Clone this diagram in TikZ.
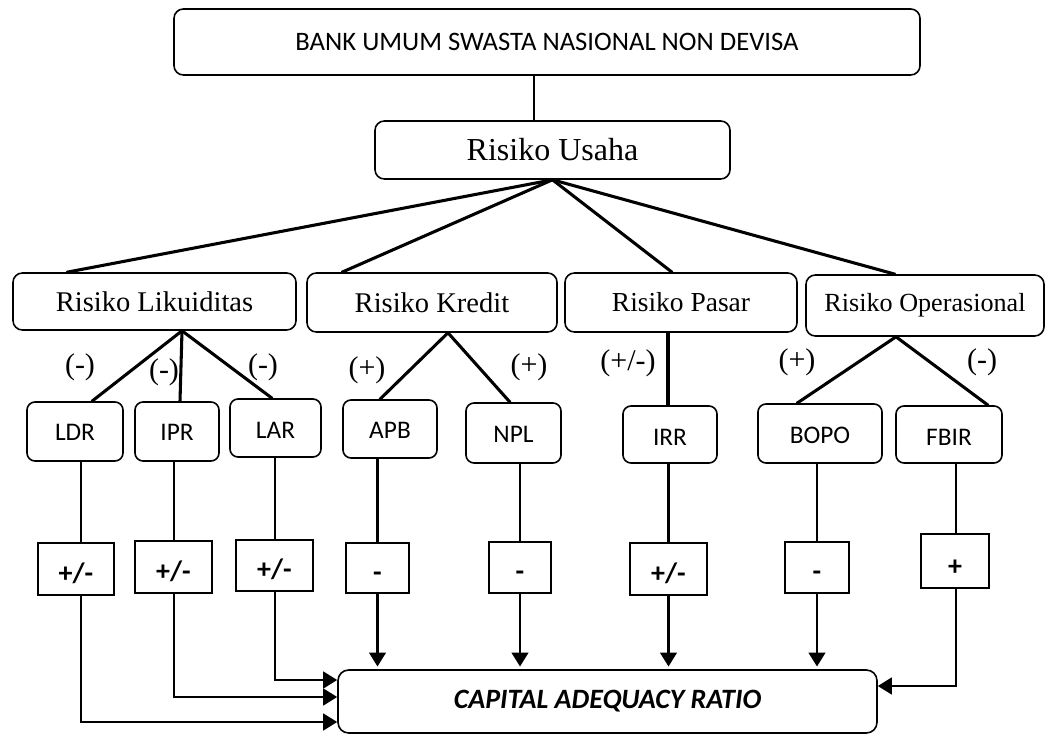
\documentclass[tikz,border=0pt]{standalone}
\usepackage{fontspec}
\setmainfont{Liberation Serif}
\newfontfamily\calibrifont{Carlito}
\usetikzlibrary{arrows.meta,calc}
\newcommand\boxat[7]{\node[#2,minimum width={(#5-#3)*0.75pt},minimum height={(#6-#4)*0.75pt}] (#1) at ({(#3+#5)/2},{(#4+#6)/2}) {#7};}
\newcommand\lowtext[2]{\raisebox{-#1}[0pt][0pt]{#2}}
\begin{document}
\begin{tikzpicture}[x=0.75pt,y=-0.75pt,
  rbox/.style={draw,line width=1.2pt,rounded corners=7pt,inner sep=0pt},
  sbox/.style={draw,line width=1.2pt,rounded corners=6pt,inner sep=0pt,font=\calibrifont\fontsize{19}{23}\selectfont},
  sign/.style={draw,line width=1.2pt,inner sep=0pt,font=\calibrifont\bfseries\fontsize{21}{25}\selectfont},
  fan/.style={line width=2.3pt,line cap=round},
  vline/.style={line width=1.9pt},
  arr/.style={line width=1.9pt,-{Triangle[length=10.5pt,width=12.5pt]}},
  lab/.style={inner sep=0pt,font=\fontsize{22.5}{26}\selectfont},
]
\useasboundingbox (0,0) rectangle (1046,734);
% main boxes
\boxat{top}{rbox,font=\calibrifont\fontsize{20}{24}\selectfont}{174}{9}{920}{75}{BANK UMUM SWASTA NASIONAL NON DEVISA}
\boxat{usaha}{rbox,font=\fontsize{24}{28}\selectfont}{375}{121}{730}{179}{Risiko Usaha}
\boxat{lik}{rbox,font=\fontsize{21.4}{25}\selectfont}{13}{273}{296}{330}{Risiko Likuiditas}
\boxat{kre}{rbox,font=\fontsize{21.4}{25}\selectfont}{307}{273}{557}{332}{Risiko Kredit}
\boxat{pas}{rbox,font=\fontsize{20.6}{25}\selectfont}{565}{273}{797}{332}{Risiko Pasar}
\boxat{ope}{rbox,font=\fontsize{19.6}{24}\selectfont}{806}{275}{1044}{336}{Risiko Operasional}
% sub boxes
\boxat{ldr}{sbox}{27}{402}{123}{461}{\lowtext{7pt}{LDR}}
\boxat{ipr}{sbox}{135}{402}{219}{461}{\lowtext{7pt}{IPR}}
\boxat{lar}{sbox}{230}{399}{321}{457}{\lowtext{8pt}{LAR}}
\boxat{apb}{sbox}{343}{400}{437}{458}{\lowtext{7pt}{APB}}
\boxat{npl}{sbox}{466}{403}{561}{463}{\lowtext{7pt}{NPL}}
\boxat{irr}{sbox}{623}{406}{717}{463}{\lowtext{8pt}{IRR}}
\boxat{bopo}{sbox}{758}{404}{882}{463}{\lowtext{7.5pt}{BOPO}}
\boxat{fbir}{sbox}{896}{406}{1002}{463}{\lowtext{8pt}{FBIR}}
% sign boxes
\boxat{s1}{sign}{38}{543}{114}{595}{\lowtext{10pt}{+/-}}
\boxat{s2}{sign}{135}{541}{212}{593}{\lowtext{10pt}{+/-}}
\boxat{s3}{sign}{236}{540}{313}{591}{\lowtext{10pt}{+/-}}
\boxat{s4}{sign}{346}{543}{409}{593}{\lowtext{10pt}{-}}
\boxat{s5}{sign}{489}{542}{551}{593}{\lowtext{10pt}{-}}
\boxat{s6}{sign}{630}{543}{707}{595}{\lowtext{10pt}{+/-}}
\boxat{s7}{sign}{785}{542}{849}{593}{\lowtext{10pt}{-}}
\boxat{s8}{sign}{921}{534}{989}{588}{\lowtext{11pt}{+}}
% target
\boxat{car}{rbox,rounded corners=8pt,font=\calibrifont\bfseries\itshape\fontsize{21}{25}\selectfont}{338}{670}{877}{733}{CAPITAL ADEQUACY RATIO}
% labels
\node[lab] (l1) at (80,367) {(-)};
\node[lab] (l2) at (164,372) {(-)};
\node[lab] (l3) at (263,367) {(-)};
\node[lab] (l4) at (367,370) {(+)};
\node[lab] (l5) at (529,367) {(+)};
\node[lab] (l6) at (628,363) {(+/-)};
\node[lab] (l7) at (797,362) {(+)};
\node[lab] (l8) at (982,362) {(-)};
% top connector
\coordinate (xU) at (534,0);
\draw[line width=0.8pt] (top.south -| xU) -- (usaha.north -| xU);
% fan from Risiko Usaha
\draw[fan] (usaha.south) -- ($(lik.north)+(-87.5,0)$);
\draw[fan] (usaha.south) -- ($(kre.north)+(-90,0)$);
\draw[fan] (usaha.south) -- ($(pas.north)+(-9,0)$);
\draw[fan] (usaha.south) -- ($(ope.north)+(-30,0)$);
% Likuiditas
\draw[fan] ($(lik.south)+(27.5,0)$) -- ($(ldr.north)+(17,0)$);
\draw[fan] ($(lik.south)+(27.5,0)$) -- ($(ipr.north)+(3,0)$);
\draw[fan] ($(lik.south)+(27.5,0)$) -- ($(lar.north)+(-3.5,0)$);
% Kredit
\draw[fan] ($(kre.south)+(16,0)$) -- ($(apb.north)+(-10,0)$);
\draw[fan] ($(kre.south)+(16,0)$) -- ($(npl.north)+(-3.5,0)$);
% Pasar
\coordinate (xP) at (668,0);
\draw[fan] (pas.south -| xP) -- (irr.north -| xP);
% Operasional
\draw[fan] ($(ope.south)+(-29,0)$) -- ($(bopo.north)+(-23,0)$);
\draw[fan] ($(ope.south)+(-29,0)$) -- ($(fbir.north)+(39,0)$);
% sub to sign
\coordinate (kL) at (81,722);
\coordinate (kI) at (174,697);
\coordinate (kA) at (275,680);
\coordinate (kF) at (956,686);
\draw[vline] (ldr.south -| kL) -- (s1.north -| kL);
\draw[vline] (ipr.south -| kI) -- (s2.north -| kI);
\draw[vline] (lar.south -| kA) -- (s3.north -| kA);
\draw[vline] (apb.south -| s4) -- (s4.north);
\draw[vline] (npl.south -| s5) -- (s5.north);
\draw[vline] (irr.south -| s6) -- (s6.north);
\draw[vline] (bopo.south -| s7) -- (s7.north);
\draw[vline] (fbir.south -| kF) -- (s8.north -| kF);
% sign to CAR
\draw[arr] (s1.south -| kL) -- (kL) -- (kL -| car.west);
\draw[arr] (s2.south -| kI) -- (kI) -- (kI -| car.west);
\draw[arr] (s3.south -| kA) -- (kA) -- (kA -| car.west);
\draw[arr,shorten >=2pt] (s4.south) -- (s4.south |- car.north);
\draw[arr,shorten >=2pt] (s5.south) -- (s5.south |- car.north);
\draw[arr,shorten >=2pt] (s6.south) -- (s6.south |- car.north);
\draw[arr,shorten >=2pt] (s7.south) -- (s7.south |- car.north);
\draw[arr] (s8.south -| kF) -- (kF) -- (kF -| car.east);
\end{tikzpicture}
\end{document}
